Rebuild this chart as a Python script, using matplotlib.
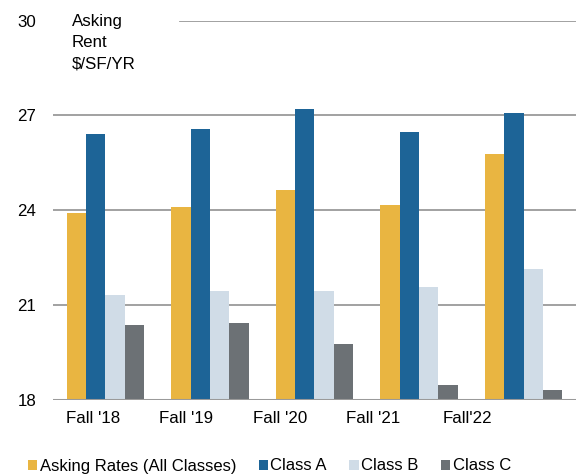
import matplotlib as mpl
import matplotlib.pyplot as plt
import numpy as np
from matplotlib.patches import Patch

mpl.rcParams["font.family"] = ["Liberation Sans", "DejaVu Sans"]

periods = ["Fall '18", "Fall '19", "Fall '20", "Fall '21", "Fall'22"]
series_names = ["Asking Rates (All Classes)", "Class A", "Class B", "Class C"]
all_classes = [23.92, 24.10, 24.65, 24.17, 25.78]
class_a = [26.42, 26.58, 27.21, 26.48, 27.08]
class_b = [21.32, 21.45, 21.45, 21.58, 22.15]
class_c = [20.37, 20.44, 19.77, 18.47, 18.32]
y_ticks = [18, 21, 24, 27, 30]

colors = ["#E9B541", "#1D6497", "#D0DCE7", "#6C7175"]
grid_color = "#9a9a9a"


def draw_chart(output_file="out.png"):
    fig = plt.figure(figsize=(5.85, 4.76), dpi=100)
    ax = fig.add_axes([0.0906, 0.1597, 0.894, 0.797])

    x = np.arange(len(periods))
    width = 0.185
    series = [all_classes, class_a, class_b, class_c]
    for i, (vals, color) in enumerate(zip(series, colors)):
        offset = (i - 1.5) * width
        ax.bar(x + offset, np.array(vals) - 18, width, bottom=18,
               color=color, linewidth=0, zorder=3)

    ax.set_xlim(-0.5, len(periods) - 0.5)
    ax.set_ylim(18, 30)

    # Horizontal rules; the top one leaves room for the unit label
    for y in y_ticks[1:-1]:
        ax.axhline(y, color=grid_color, linewidth=1.3, zorder=1)
    ax.axhline(30, xmin=0.243, color=grid_color, linewidth=1.3, zorder=1)
    ax.axhline(18, color=grid_color, linewidth=2.2, zorder=4)

    for side in ["top", "right", "left", "bottom"]:
        ax.spines[side].set_visible(False)

    ax.set_yticks(y_ticks)
    ax.set_yticklabels([str(t) for t in y_ticks], fontsize=12.2)
    ax.tick_params(axis="y", length=0, pad=12)

    # Category labels sit slightly left of the bar groups
    label_pos = np.arange(len(periods)) * 0.895 - 0.12
    ax.set_xticks(label_pos)
    ax.set_xticklabels(periods, fontsize=12.2)
    ax.tick_params(axis="x", length=0, pad=8)

    fig.text(72 / 585, 1 - 14 / 476, "Asking\nRent\n$/SF/YR", fontsize=12.2,
             va="top", ha="left", linespacing=1.5)

    handles = [Patch(facecolor=c, edgecolor="none") for c in colors]
    fig.legend(handles, series_names, loc="center left",
               bbox_to_anchor=(0.048, 1 - 466 / 476), ncol=4, frameon=False,
               fontsize=12, handlelength=0.55, handleheight=0.55,
               handletextpad=0.15, columnspacing=1.35, borderaxespad=0,
               borderpad=0)

    fig.savefig(output_file, dpi=100)


draw_chart()
